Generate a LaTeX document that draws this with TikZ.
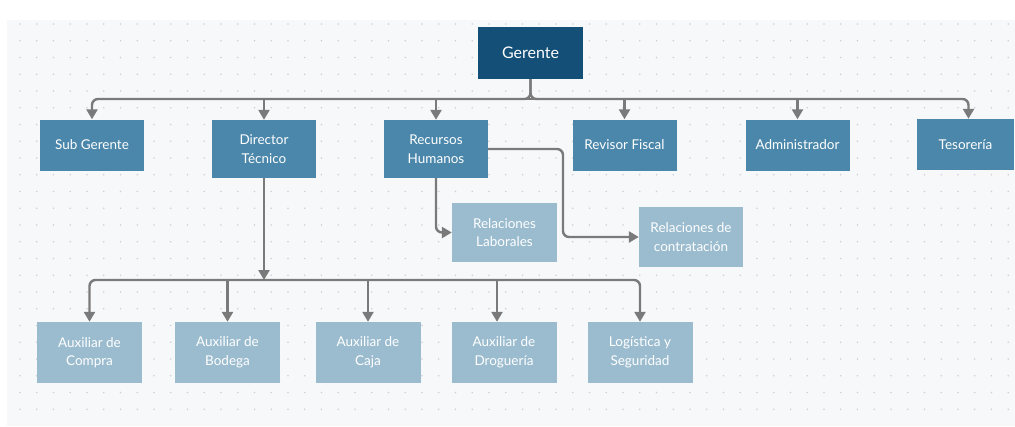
\documentclass[tikz,border=0pt]{standalone}
\usepackage{fontspec}
\setmainfont{Lato}
\usetikzlibrary{arrows.meta}
\definecolor{bgc}{HTML}{F7F8FA}
\definecolor{dotc}{HTML}{CDD1D6}
\definecolor{darkb}{HTML}{134F77}
\definecolor{midb}{HTML}{4B87AB}
\definecolor{lightb}{HTML}{9BBCCF}
\definecolor{linec}{HTML}{7A7A7A}
\tikzset{
  box/.style={draw=none, text=white, inner sep=0pt, align=center,
    font=\fontsize{13.5}{18.5}\selectfont},
  topbox/.style={box, fill=darkb, minimum width=105pt, minimum height=52pt,
    font=\fontsize{16}{20}\selectfont},
  midbox/.style={box, fill=midb, minimum width=104pt},
  lowbox/.style={box, fill=lightb, minimum width=105pt},
  conn/.style={draw=linec, line width=2.4pt, rounded corners=6pt,
    -{Triangle[length=10pt,width=11pt]}},
  tee/.style={conn, sharp corners},
}
\begin{document}
\begin{tikzpicture}[x=1pt,y=-1pt]
\useasboundingbox (0,0) rectangle (1015,426);
\fill[white] (0,0) rectangle (1015,426);
\fill[bgc] (7,20) rectangle (1015,426);
\foreach \i in {0,...,59} {
  \foreach \j in {0,...,23} {
    \fill[dotc] (20+\i*16.75, 24+\j*16.75) circle (0.9pt);
  }
}
% nodes
\node[topbox] (ger) at (530.5,53) {Gerente};
\node[midbox, minimum height=51pt] (sub) at (92,145) {Sub Gerente};
\node[midbox, minimum height=58pt] (dir) at (264,149) {Director\\Técnico};
\node[midbox, minimum height=58pt] (rh) at (436,149) {Recursos\\Humanos};
\node[midbox, minimum height=51pt] (rev) at (624.5,145) {Revisor Fiscal};
\node[midbox, minimum height=51pt] (adm) at (797.5,145) {Administrador};
\node[midbox, minimum height=51pt, minimum width=97pt] (tes) at (965.5,144.5) {Tesorería};
\node[lowbox, minimum height=59pt] (rl) at (504.5,232.5) {Relaciones\\Laborales};
\node[lowbox, minimum height=60pt, minimum width=104pt] (rc) at (691,237) {Relaciones de\\contratación};
\node[lowbox, minimum height=61pt] (ac) at (89.5,352.5) {Auxiliar de\\Compra};
\node[lowbox, minimum height=61pt] (ab) at (227.5,352.5) {Auxiliar de\\Bodega};
\node[lowbox, minimum height=61pt] (aj) at (368,352.5) {Auxiliar de\\Caja};
\node[lowbox, minimum height=61pt] (ad) at (504,352.5) {Auxiliar de\\Droguería};
\node[lowbox, minimum height=61pt] (lg) at (640,352.5) {Logística y\\Seguridad};
% connectors from Gerente
\coordinate (gbus) at (530.5,99);
\draw[conn] (ger.south) -- (gbus) -| (sub.north);
\draw[conn] (ger.south) -- (gbus) -| ([xshift=3pt]tes.north);
\foreach \c in {dir,rh,rev,adm} {
  \draw[tee] (gbus) -| (\c.north);
}
% Recursos Humanos
\draw[conn] (rh.south) |- (rl.west);
\coordinate (rhc) at (563,149);
\draw[conn] (rh.east) -- (rhc) |- (rc.west);
% Director Tecnico
\coordinate (dbus) at (264,280);
\draw[conn] (dir.south) -- (dbus);
\draw[conn] (dbus) -| (ac.north);
\draw[conn] (dbus) -| (lg.north);
\foreach \c in {ab,aj} {
  \draw[tee] (dbus) -| (\c.north);
}
\draw[tee] (dbus) -| ([xshift=-7pt]ad.north);
\end{tikzpicture}
\end{document}
